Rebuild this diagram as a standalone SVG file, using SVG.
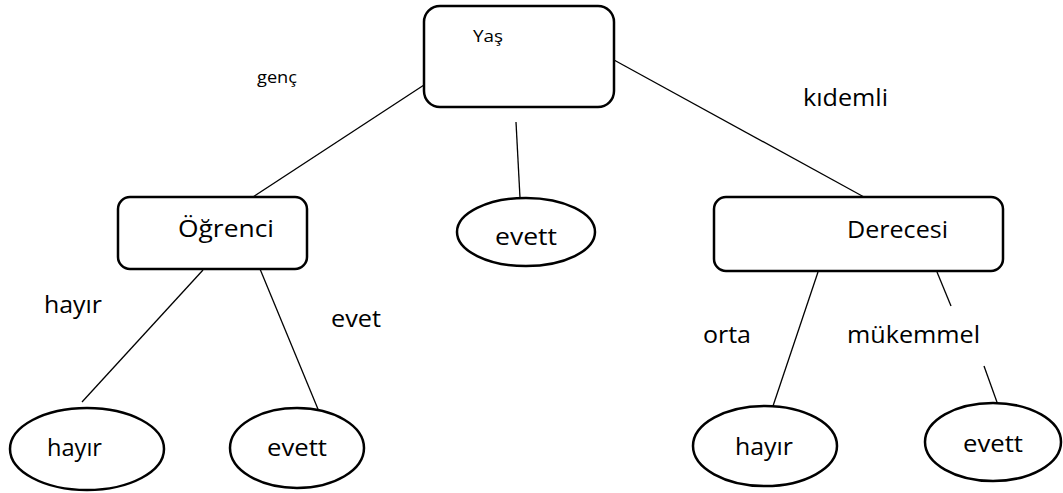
<svg xmlns="http://www.w3.org/2000/svg" width="1063" height="493" viewBox="0 0 1063 493">
<style>
.box{fill:#fff;stroke:#000;stroke-width:2.5}
.ell{fill:#fff;stroke:#000;stroke-width:2.5}
.ln{stroke:#000;stroke-width:1.3;fill:none}
.t{font-family:"Open Sans","Liberation Sans",Arial,sans-serif;font-size:23px;fill:#000}
.s{font-family:"Open Sans","Liberation Sans",Arial,sans-serif;font-size:16px;fill:#000}
</style>
<rect width="1063" height="493" fill="#fff"/>
<g id="connectors">
<line class="ln" x1="424" y1="85" x2="253" y2="197"/>
<line class="ln" x1="516" y1="122" x2="520" y2="198"/>
<line class="ln" x1="614" y1="60" x2="864" y2="197"/>
<line class="ln" x1="203" y1="270" x2="82" y2="402"/>
<line class="ln" x1="260" y1="269" x2="320" y2="414"/>
<line class="ln" x1="818" y1="272" x2="773" y2="406"/>
<line class="ln" x1="937" y1="272" x2="951" y2="306"/>
<line class="ln" x1="984" y1="366" x2="998" y2="405"/>
</g>
<g id="labels">
<text class="s" x="257" y="83" textLength="40" lengthAdjust="spacingAndGlyphs">genç</text>
<text class="t" x="803" y="106" textLength="85" lengthAdjust="spacingAndGlyphs">kıdemli</text>
<text class="t" x="44" y="313" textLength="58" lengthAdjust="spacingAndGlyphs">hayır</text>
<text class="t" x="331" y="327" textLength="50" lengthAdjust="spacingAndGlyphs">evet</text>
<text class="t" x="703" y="343" textLength="48" lengthAdjust="spacingAndGlyphs">orta</text>
<text class="t" x="847" y="343" textLength="133" lengthAdjust="spacingAndGlyphs">mükemmel</text>
</g>
<g id="yas">
<rect class="box" x="424" y="6" width="190" height="101" rx="16"/>
<text class="s" x="473" y="42" textLength="30" lengthAdjust="spacingAndGlyphs">Yaş</text>
</g>
<g id="ogrenci">
<rect class="box" x="118" y="197" width="189" height="72" rx="12"/>
<text class="t" x="178" y="237" textLength="96" lengthAdjust="spacingAndGlyphs">Öğrenci</text>
</g>
<g id="evett-mid">
<ellipse class="ell" cx="526" cy="232" rx="69" ry="34"/>
<text class="t" x="495" y="245" textLength="62" lengthAdjust="spacingAndGlyphs">evett</text>
</g>
<g id="derecesi">
<rect class="box" x="714" y="197" width="289" height="74" rx="12"/>
<text class="t" x="847" y="238" textLength="101" lengthAdjust="spacingAndGlyphs">Derecesi</text>
</g>
<g id="hayir-left">
<ellipse class="ell" cx="87" cy="449" rx="77" ry="41"/>
<text class="t" x="47" y="456" textLength="55" lengthAdjust="spacingAndGlyphs">hayır</text>
</g>
<g id="evett-left">
<ellipse class="ell" cx="297" cy="448" rx="67" ry="40"/>
<text class="t" x="267" y="456" textLength="60" lengthAdjust="spacingAndGlyphs">evett</text>
</g>
<g id="hayir-right">
<ellipse class="ell" cx="765" cy="446" rx="72" ry="40"/>
<text class="t" x="735" y="455" textLength="58" lengthAdjust="spacingAndGlyphs">hayır</text>
</g>
<g id="evett-right">
<ellipse class="ell" cx="993" cy="442" rx="68" ry="39"/>
<text class="t" x="963" y="452" textLength="60" lengthAdjust="spacingAndGlyphs">evett</text>
</g>
</svg>
